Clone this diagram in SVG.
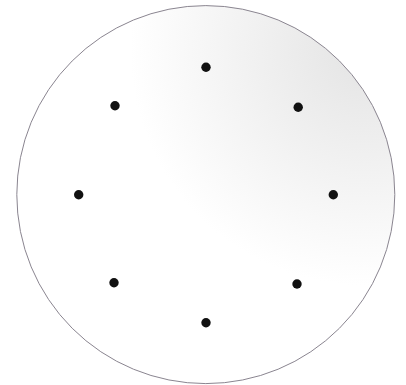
<svg xmlns="http://www.w3.org/2000/svg" width="406" height="385" viewBox="0 0 406 385">
  <defs>
    <radialGradient id="bg" cx="0.92" cy="0.12" r="0.62">
      <stop offset="0" stop-color="#e4e4e4"/>
      <stop offset="1" stop-color="#ffffff"/>
    </radialGradient>
    <style>
      .dot { fill: #111111; }
    </style>
  </defs>
  <rect width="406" height="385" fill="#ffffff"/>
  <g id="disc">
    <circle cx="205.8" cy="194.6" r="189" fill="url(#bg)" stroke="#8a8590" stroke-width="1"/>
  </g>
  <g id="connectors"></g>
  <g id="n1"><circle class="dot" cx="206" cy="67.3" r="4.7"/></g>
  <g id="n2"><circle class="dot" cx="298.2" cy="107.2" r="4.7"/></g>
  <g id="n3"><circle class="dot" cx="333.3" cy="194.7" r="4.7"/></g>
  <g id="n4"><circle class="dot" cx="297" cy="284" r="4.7"/></g>
  <g id="n5"><circle class="dot" cx="206" cy="322.7" r="4.7"/></g>
  <g id="n6"><circle class="dot" cx="114" cy="282.7" r="4.7"/></g>
  <g id="n7"><circle class="dot" cx="78.7" cy="194.7" r="4.7"/></g>
  <g id="n8"><circle class="dot" cx="115" cy="105.7" r="4.7"/></g>
</svg>
